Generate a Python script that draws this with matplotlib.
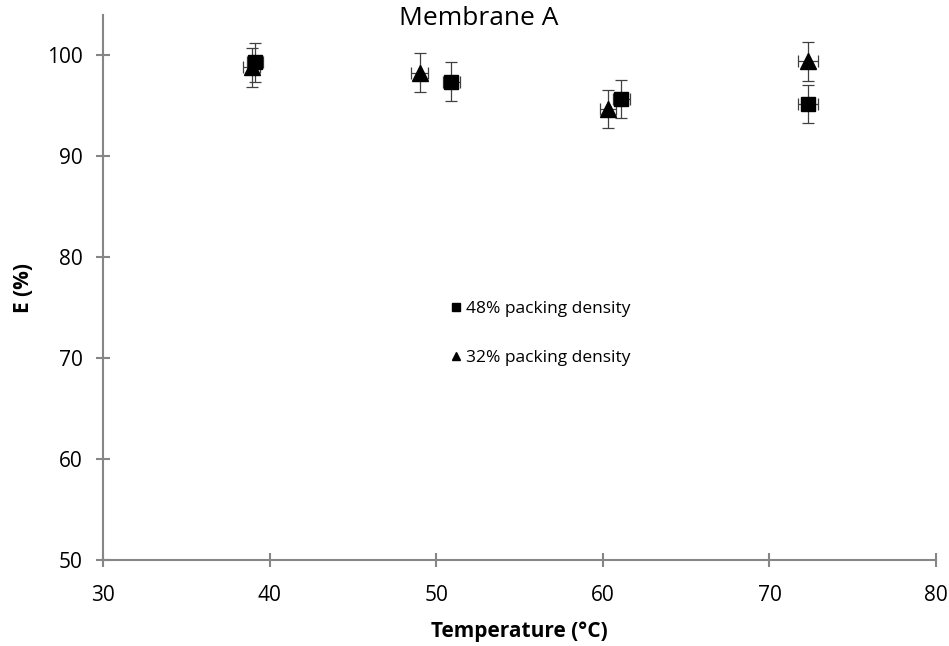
import numpy as np
import matplotlib.pyplot as plt
from matplotlib.lines import Line2D

plt.rcParams['font.family'] = ['Open Sans', 'DejaVu Sans']

# Membrane A: rejection vs. temperature for two packing densities
t_48 = [39.1, 50.9, 61.1, 72.3]
e_48 = [99.3, 97.4, 95.7, 95.2]
t_48_err = [0.5, 0.5, 0.5, 0.6]
e_48_err = [1.95, 1.95, 1.9, 1.9]

t_32 = [38.9, 49.0, 60.3, 72.3]
e_32 = [98.8, 98.3, 94.7, 99.4]
t_32_err = [0.5, 0.5, 0.5, 0.6]
e_32_err = [1.95, 1.95, 1.9, 1.95]

fig = plt.figure(figsize=(9.49, 6.46), dpi=100)
ax = fig.add_axes([0.1089, 0.1331, 0.8774, 0.8437])

ax.errorbar(t_48, e_48, xerr=t_48_err, yerr=e_48_err, fmt='s', color='black',
            markersize=10, ecolor='#404040', elinewidth=0.9, capsize=4,
            capthick=0.9, label='48% packing density')
ax.errorbar(t_32, e_32, xerr=t_32_err, yerr=e_32_err, fmt='^', color='black',
            markersize=12, ecolor='#404040', elinewidth=0.9, capsize=4,
            capthick=0.9, label='32% packing density')

ax.set_xlim(30, 80)
ax.set_ylim(50, 104)
ax.set_xticks(np.arange(30, 81, 10))
ax.set_yticks(np.arange(50, 101, 10))

for s in ['top', 'right']:
    ax.spines[s].set_visible(False)
for s in ['left', 'bottom']:
    ax.spines[s].set_color('#868686')
    ax.spines[s].set_linewidth(1.5)
ax.tick_params(direction='inout', length=10, width=1.5, color='#868686',
               labelsize=15)
ax.tick_params(axis='x', pad=13)
ax.tick_params(axis='y', pad=10)

ax.set_xlabel('Temperature (°C)', fontsize=15, fontweight='bold', labelpad=11)
ax.set_ylabel('E (%)', fontsize=15, fontweight='bold', labelpad=9)
fig.text(0.504, 0.971, 'Membrane A', ha='center', va='center', fontsize=19)

handles = [Line2D([], [], marker='s', color='black', ls='none', markersize=6),
           Line2D([], [], marker='^', color='black', ls='none', markersize=6)]
ax.legend(handles, ['48% packing density', '32% packing density'],
          loc='center left', bbox_to_anchor=(0.398, 0.416), frameon=False,
          fontsize=12.5, handlelength=0.6, handletextpad=0.3, labelspacing=1.9)

plt.savefig('out.png', dpi=100)
